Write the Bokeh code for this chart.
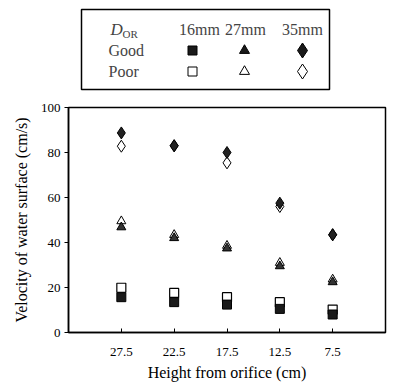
from bokeh.plotting import figure
from bokeh.models import FactorRange, Range1d, Label, ColumnDataSource
from bokeh.layouts import column
from bokeh.embed import file_html
from bokeh.resources import INLINE

heights = ["27.5", "22.5", "17.5", "12.5", "7.5"]
good_16 = [15.7, 13.5, 12.4, 10.5, 8.0]
poor_16 = [19.9, 17.6, 15.7, 13.5, 10.2]
good_27 = [46.8, 42.0, 37.4, 29.5, 22.4]
poor_27 = [49.5, 43.4, 38.6, 31.0, 23.6]
good_35 = [88.7, 83.0, 80.0, 57.5, 43.4]
poor_35 = [82.8, 83.0, 75.4, 56.0, 43.5]
legend_cols = ["16mm", "27mm", "35mm"]
legend_rows = ["Good", "Poor"]
y_ticks = [0, 20, 40, 60, 80, 100]

FONT = "Liberation Serif"
BL, BR = 68, 5
W = 390

# ---- legend figure (coordinates = pixels) ----
lg = figure(width=W, height=99, x_range=Range1d(BL, W - BR), y_range=Range1d(99, 0),
            output_backend="svg", toolbar_location=None, min_border_left=BL,
            min_border_right=BR, min_border_top=0, min_border_bottom=0)
lg.axis.visible = False
lg.grid.visible = False
lg.outline_line_color = None
lg.quad(left=[81], right=[329], top=[9], bottom=[89], fill_color=None,
        line_color="black", line_width=1.5)

lg.add_layout(Label(x=110, y=29, text="D", text_font=FONT, text_font_size="17px",
                    text_font_style="italic", text_baseline="middle"))
lg.add_layout(Label(x=122, y=33, text="OR", text_font=FONT, text_font_size="11px",
                    text_baseline="middle"))
col_x = [199, 245, 302]
for cx, t in zip(col_x, legend_cols):
    lg.add_layout(Label(x=cx, y=29, text=t, text_font=FONT, text_font_size="16px",
                        text_align="center", text_baseline="middle"))
row_y = [50, 71]
for ry, t in zip(row_y, legend_rows):
    lg.add_layout(Label(x=108, y=ry, text=t, text_font=FONT, text_font_size="16px",
                        text_baseline="middle"))
mk = ["square", "triangle", "diamond"]
ms = [9, 10, 15]
mx = [192, 244, 302]
for i in range(3):
    lg.scatter(x=[mx[i]], y=[row_y[0]], marker=mk[i], size=ms[i],
               fill_color="#1a1a1a", line_color="black")
    lg.scatter(x=[mx[i]], y=[row_y[1]], marker=mk[i], size=ms[i],
               fill_color="white", line_color="black")

# ---- main figure ----
p = figure(width=W, height=285,
           x_range=FactorRange(factors=heights, range_padding=0.5,
                               range_padding_units="absolute"),
           y_range=Range1d(0, 100),
           output_backend="svg", toolbar_location=None,
           min_border_left=BL, min_border_right=BR, min_border_top=8,
           min_border_bottom=52)
p.grid.visible = False
p.outline_line_color = "black"
p.outline_line_width = 1.5

src = ColumnDataSource(dict(h=heights, g16=good_16, p16=poor_16, g27=good_27,
                            p27=poor_27, g35=good_35, p35=poor_35))
p.scatter("h", "p16", source=src, marker="square", size=9, fill_color="white",
          line_color="black", line_width=1.2)
p.scatter("h", "g16", source=src, marker="square", size=9, fill_color="#1a1a1a",
          line_color="black")
p.scatter("h", "p27", source=src, marker="triangle", size=9, fill_color="white",
          line_color="black")
p.scatter("h", "g27", source=src, marker="triangle", size=9, fill_color="#333333",
          line_color="black")
p.scatter("h", "p35", source=src, marker="diamond", size=12, fill_color="white",
          line_color="black")
p.scatter("h", "g35", source=src, marker="diamond", size=12, fill_color="#222222",
          line_color="black")

p.yaxis.ticker = y_ticks
p.yaxis.axis_label = "Velocity of water surface (cm/s)"
p.xaxis.axis_label = "Height from orifice (cm)"
for ax in (p.xaxis, p.yaxis):
    ax.axis_label_text_font = FONT
    ax.axis_label_text_font_size = "16px"
    ax.axis_label_text_font_style = "normal"
    ax.axis_label_text_color = "black"
    ax.major_label_text_font = FONT
    ax.major_label_text_font_size = "13px"
    ax.major_label_text_color = "black"
    ax.axis_line_color = "black"
    ax.axis_line_width = 1.5
    ax.major_tick_line_color = "black"
    ax.minor_tick_line_color = None
p.yaxis.major_tick_in = 0
p.yaxis.major_tick_out = 4
p.yaxis.major_label_standoff = 4
p.yaxis.axis_label_standoff = 8
p.xaxis.major_tick_in = 4
p.xaxis.major_tick_out = 0
p.xaxis.major_label_standoff = 15
p.xaxis.axis_label_standoff = 5

layout = column(lg, p, spacing=0)
open("out.html", "w").write(file_html(layout, INLINE))
